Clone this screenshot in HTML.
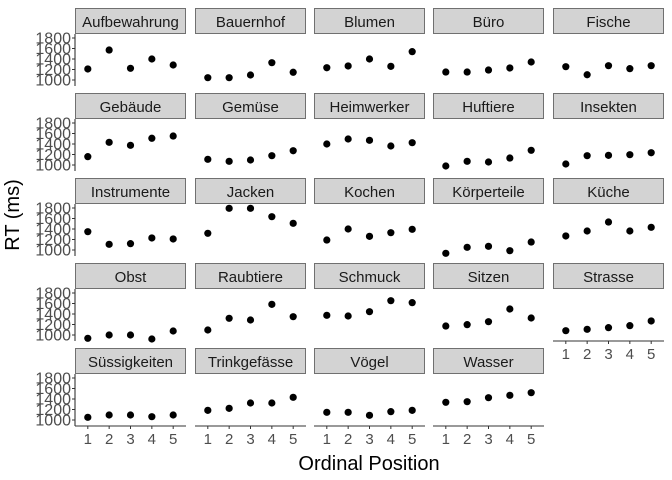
<!DOCTYPE html>
<html><head><meta charset="utf-8">
<style>
html,body{margin:0;padding:0;background:#fff;}
svg{display:block;font-family:"Liberation Sans",Arial,sans-serif;}
</style></head>
<body>
<svg id="chart" width="672" height="480" xmlns="http://www.w3.org/2000/svg">
<text x="19" y="215" font-size="20" fill="#000" text-anchor="middle" transform="rotate(-90 19 215)">RT (ms)</text>
<text x="369" y="470" font-size="20" fill="#000" text-anchor="middle">Ordinal Position</text>
</svg>
<script>
const categories = ["Aufbewahrung","Bauernhof","Blumen","Büro","Fische","Gebäude","Gemüse","Heimwerker","Huftiere","Insekten","Instrumente","Jacken","Kochen","Körperteile","Küche","Obst","Raubtiere","Schmuck","Sitzen","Strasse","Süssigkeiten","Trinkgefässe","Vögel","Wasser"];
const positions = [1,2,3,4,5];
const rtAufbewahrung = [1210,1571,1223,1400,1286];
const rtBauernhof = [1044,1044,1095,1330,1147];
const rtBlumen = [1234,1267,1400,1260,1540];
const rtBuero = [1152,1152,1190,1229,1343];
const rtFische = [1254,1100,1273,1216,1273];
const rtGebaeude = [1159,1432,1375,1509,1552];
const rtGemuese = [1108,1070,1095,1177,1272];
const rtHeimwerker = [1400,1495,1470,1362,1425];
const rtHuftiere = [981,1070,1057,1133,1280];
const rtInsekten = [1019,1177,1184,1196,1234];
const rtInstrumente = [1349,1108,1121,1229,1210];
const rtJacken = [1318,1794,1794,1635,1508];
const rtKochen = [1190,1400,1260,1330,1394];
const rtKoerperteile = [937,1051,1070,987,1152];
const rtKueche = [1267,1362,1533,1362,1432];
const rtObst = [937,1000,1000,924,1076];
const rtRaubtiere = [1095,1318,1286,1584,1349];
const rtSchmuck = [1375,1362,1444,1654,1616];
const rtSitzen = [1171,1197,1254,1495,1324];
const rtStrasse = [1082,1108,1140,1178,1267];
const rtSuessigkeiten = [1051,1095,1095,1063,1095];
const rtTrinkgefaesse = [1184,1222,1324,1324,1432];
const rtVoegel = [1146,1146,1089,1159,1184];
const rtWasser = [1337,1349,1425,1470,1520];
const yTicks = [1000,1200,1400,1600,1800];
const xTicks = ["1","2","3","4","5"];

const series = [rtAufbewahrung,rtBauernhof,rtBlumen,rtBuero,rtFische,rtGebaeude,rtGemuese,rtHeimwerker,rtHuftiere,rtInsekten,rtInstrumente,rtJacken,rtKochen,rtKoerperteile,rtKueche,rtObst,rtRaubtiere,rtSchmuck,rtSitzen,rtStrasse,rtSuessigkeiten,rtTrinkgefaesse,rtVoegel,rtWasser];

const NS="http://www.w3.org/2000/svg";
const svg=document.getElementById('chart');
const colX=[75,195,314,433,553], PW=111, rowTop=8, rowPitch=85, stripH=26, PH=52;
function xScale(v){return (v-0.4)/5.2*PW;}
function yScale(v){return 46-(v-1000)*0.0525;}
function mk(tag,attrs){const e=document.createElementNS(NS,tag);for(const k in attrs)e.setAttribute(k,attrs[k]);svg.appendChild(e);return e;}

categories.forEach((cat,i)=>{
  const col=i%5,row=Math.floor(i/5);
  const x0=colX[col], sy=rowTop+row*rowPitch, py=sy+stripH;
  const strip=mk('rect',{x:x0+0.5,y:sy+0.5,width:PW-1,height:stripH-1,fill:'#d3d3d3',stroke:'#707070','stroke-width':1});
  
  
  const st=mk('text',{x:x0+PW/2,y:sy+19,'font-size':15,fill:'#1a1a1a','text-anchor':'middle'});
  st.textContent=cat;
  
  
  series[i].forEach((v,j)=>{
    const c=mk('circle',{cx:x0+xScale(positions[j]),cy:py+yScale(v),r:3.6,fill:'#000'});
    
    
  });
  if(col===0){
    const ax=mk('line',{x1:x0,x2:x0,y1:py,y2:py+PH,stroke:'#333','stroke-width':1.1});
    
    
    yTicks.forEach(t=>{
      const yy=py+yScale(t);
      mk('line',{x1:x0-3,x2:x0,y1:yy,y2:yy,stroke:'#333','stroke-width':1});
      const tl=mk('text',{x:x0-4,y:yy+5.5,'font-size':16,fill:'#4d4d4d','text-anchor':'end'});
      tl.textContent=t;
      
      
    });
  }
  const hasXAxis = row===4 || (row===3 && col===4);
  if(hasXAxis){
    const by=py+PH;
    const xl=mk('line',{x1:x0,x2:x0+PW,y1:by,y2:by,stroke:'#333','stroke-width':1.1});
    
    
    xTicks.forEach((t,j)=>{
      const xx=x0+xScale(positions[j]);
      mk('line',{x1:xx,x2:xx,y1:by,y2:by+3,stroke:'#333','stroke-width':1});
      const tl=mk('text',{x:xx,y:by+18,'font-size':15,fill:'#4d4d4d','text-anchor':'middle'});
      tl.textContent=t;
      
      
    });
  }
});
</script>
</body></html>
